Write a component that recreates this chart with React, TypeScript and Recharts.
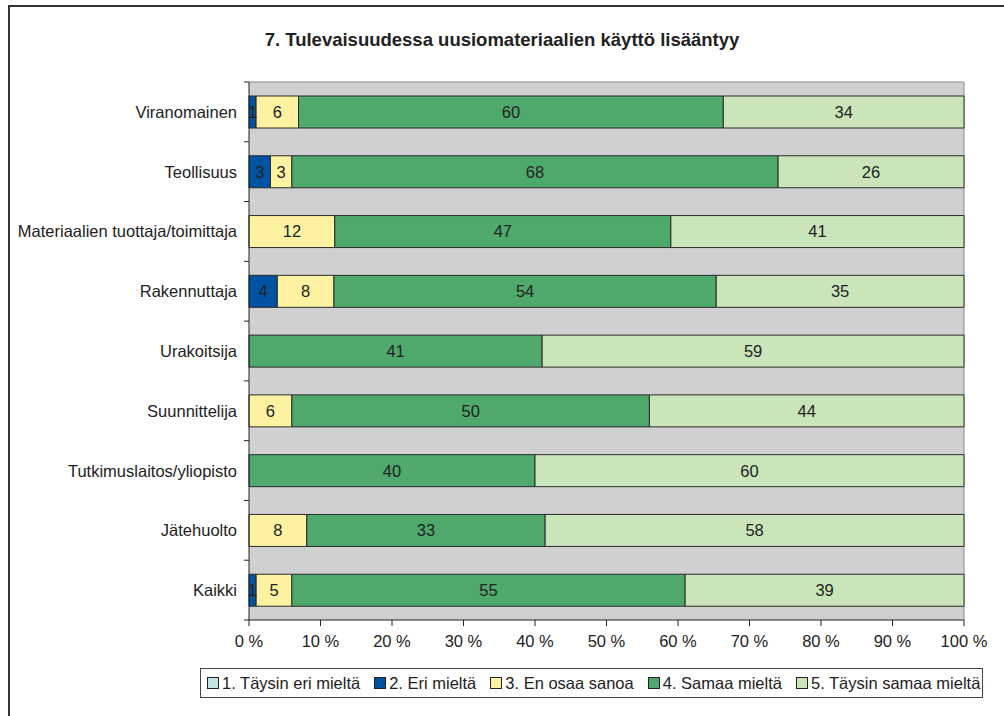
import { BarChart, Bar, XAxis, YAxis, CartesianGrid, LabelList } from "recharts";

const categories = [
  "Viranomainen",
  "Teollisuus",
  "Materiaalien tuottaja/toimittaja",
  "Rakennuttaja",
  "Urakoitsija",
  "Suunnittelija",
  "Tutkimuslaitos/yliopisto",
  "Jätehuolto",
  "Kaikki",
];

const taysinEri = [0, 0, 0, 0, 0, 0, 0, 0, 0];
const eri = [1, 3, 0, 4, 0, 0, 0, 0, 1];
const enOsaa = [6, 3, 12, 8, 0, 6, 0, 8, 5];
const samaa = [60, 68, 47, 54, 41, 50, 40, 33, 55];
const taysinSamaa = [34, 26, 41, 35, 59, 44, 60, 58, 39];

const xTicks = [0, 0.1, 0.2, 0.3, 0.4, 0.5, 0.6, 0.7, 0.8, 0.9, 1];

const series = [
  { key: "s1", name: "1. Täysin eri mieltä", color: "#c2e3e1", values: taysinEri },
  { key: "s2", name: "2. Eri mieltä", color: "#0052a3", values: eri },
  { key: "s3", name: "3. En osaa sanoa", color: "#fdf1a2", values: enOsaa },
  { key: "s4", name: "4. Samaa mieltä", color: "#4fa96c", values: samaa },
  { key: "s5", name: "5. Täysin samaa mieltä", color: "#c9e5b9", values: taysinSamaa },
];

const data = categories.map((name, i) => {
  const row: Record<string, string | number> = { name };
  series.forEach((s) => (row[s.key] = s.values[i]));
  return row;
});

const FONT = '"Liberation Sans", Arial, sans-serif';
const FS = 16.5;
const CHART_H = 716;
const X_AXIS_H = 30;
const MARGIN = { top: 82, right: 40, bottom: 66, left: 9 };
const BAND = (CHART_H - MARGIN.top - MARGIN.bottom - X_AXIS_H) / categories.length;

function CategoryTick(props: any) {
  const { x, y, payload, index } = props;
  const half = payload?.offset || BAND / 2;
  const axisX = x + 8;
  return (
    <g>
      <line x1={axisX - 5} x2={axisX} y1={y - half} y2={y - half} stroke="#222" />
      {index === categories.length - 1 && (
        <line x1={axisX - 5} x2={axisX} y1={y + half} y2={y + half} stroke="#222" />
      )}
      <text x={axisX - 12} y={y} dy={6} textAnchor="end" fill="#222" fontSize={FS} fontFamily={FONT}>
        {payload.value}
      </text>
    </g>
  );
}

export default function App() {
  return (
    <div
      style={{
        position: "absolute",
        left: 0,
        top: 0,
        width: 1004,
        height: 716,
        overflow: "hidden",
        background: "#fff",
        fontFamily: FONT,
      }}
    >
      <div
        style={{
          position: "absolute",
          left: 0,
          width: 1004,
          top: 29,
          textAlign: "center",
          fontWeight: "bold",
          fontSize: 18.5,
          color: "#222",
        }}
      >
        7. Tulevaisuudessa uusiomateriaalien käyttö lisääntyy
      </div>
      <div style={{ position: "absolute", left: 0, top: 0 }}>
        <BarChart
          width={1004}
          height={CHART_H}
          data={data}
          layout="vertical"
          stackOffset="expand"
          margin={MARGIN}
        >
          <CartesianGrid
            fill="#d0d0d0"
            stroke="#8a8a8a"
            horizontalCoordinatesGenerator={({ offset }: any) => [offset.top]}
            verticalCoordinatesGenerator={({ offset }: any) => [offset.left + offset.width]}
          />
          <XAxis
            type="number"
            domain={[0, 1]}
            ticks={xTicks}
            height={X_AXIS_H}
            tickFormatter={(v: number) => `${Math.round(v * 100)} %`}
            stroke="#222"
            tickSize={6}
            tickMargin={9}
            tick={{ fill: "#222", fontSize: FS, fontFamily: FONT }}
            interval={0}
          />
          <YAxis
            type="category"
            dataKey="name"
            width={240}
            stroke="#222"
            tickLine={false}
            tick={<CategoryTick />}
            interval={0}
          />
          {series.map((s) => (
            <Bar
              key={s.key}
              dataKey={s.key}
              name={s.name}
              stackId="a"
              fill={s.color}
              stroke="#2a2a2a"
              strokeWidth={1}
              barSize={32}
              isAnimationActive={false}
            >
              <LabelList
                dataKey={s.key}
                position="center"
                fill="#222"
                fontSize={FS}
                fontFamily={FONT}
                formatter={(v: any) => (Number(v) > 0 ? v : "")}
              />
            </Bar>
          ))}
        </BarChart>
      </div>
      <div
        style={{
          position: "absolute",
          left: 200,
          top: 668,
          width: 783,
          height: 30,
          border: "1px solid #444",
          display: "flex",
          alignItems: "center",
          gap: 14,
          paddingLeft: 6,
          boxSizing: "border-box",
          fontSize: FS,
          color: "#222",
          background: "#fff",
        }}
      >
        {series.map((s) => (
          <div key={s.key} style={{ display: "flex", alignItems: "center" }}>
            <span
              style={{
                display: "inline-block",
                width: 10,
                height: 10,
                background: s.color,
                border: "1px solid #222",
                marginRight: 3,
              }}
            />
            {s.name}
          </div>
        ))}
      </div>
      <div
        style={{
          position: "absolute",
          left: 8,
          top: 5,
          width: 1100,
          height: 800,
          borderTop: "2px solid #333",
          borderLeft: "2px solid #333",
          pointerEvents: "none",
        }}
      />
    </div>
  );
}
